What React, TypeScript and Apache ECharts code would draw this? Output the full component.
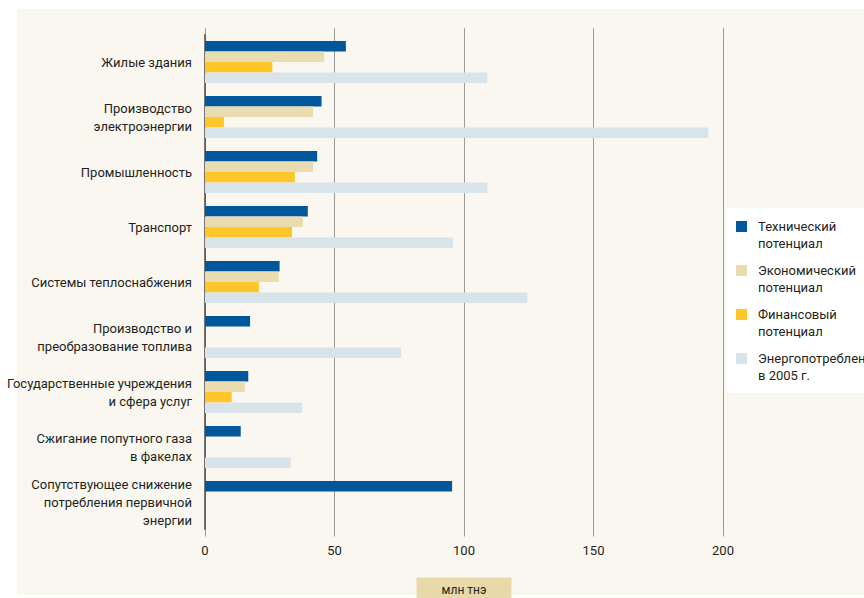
import React, { useEffect, useRef } from "react";
import * as echarts from "echarts";

const categories = [
  "Жилые здания",
  "Производство\nэлектроэнергии",
  "Промышленность",
  "Транспорт",
  "Системы теплоснабжения",
  "Производство и\nпреобразование топлива",
  "Государственные учреждения\nи сфера услуг",
  "Сжигание попутного газа\nв факелах",
  "Сопутствующее снижение\nпотребления первичной\nэнергии",
];

const seriesNames = [
  "Технический\nпотенциал",
  "Экономический\nпотенциал",
  "Финансовый\nпотенциал",
  "Энергопотребление\nв 2005 г.",
];

const technical = [54.4, 45, 43.3, 39.7, 28.8, 17.4, 16.7, 13.8, 95.4];
const economic = [46, 41.7, 41.7, 37.8, 28.5, null, 15.4, null, null];
const financial = [26, 7.3, 34.7, 33.6, 20.8, null, 10.3, null, null];
const consumption = [109, 194.3, 109, 95.8, 124.5, 75.7, 37.5, 33.1, null];

const colors = ["#00579c", "#e8dcb0", "#ffc629", "#d9e4ea"];
const xTicks = { min: 0, max: 200, interval: 50 };

const FONT = "Roboto, 'Liberation Sans', sans-serif";

export default function App() {
  const ref = useRef<HTMLDivElement>(null);
  useEffect(() => {
    document.body.style.margin = "0";
    const chart = echarts.init(ref.current!, null, { renderer: "svg" });
    const values = [technical, economic, financial, consumption];
    const iconPath = "path://M0,3H11V14H0Z M0,0H0.01V0.01H0Z M0,34H0.01V34.01H0Z";
    chart.setOption({
      animation: false,
      backgroundColor: "#ffffff",
      textStyle: { fontFamily: FONT },
      graphic: [
        {
          type: "rect",
          silent: true,
          z: -10,
          shape: { x: 17, y: 9, width: 860, height: 586 },
          style: { fill: "#f9f7f0" },
        },
      ],
      grid: {
        left: 205,
        top: 34.5,
        width: 518,
        height: 495,
        containLabel: false,
        outerBoundsMode: "none",
      },
      legend: {
        orient: "vertical",
        left: 726,
        top: 208,
        padding: [10, 40, 9, 10],
        backgroundColor: "#ffffff",
        itemWidth: 11,
        itemHeight: 34,
        itemGap: 10,
        icon: iconPath,
        data: seriesNames,
        textStyle: {
          fontFamily: FONT,
          fontSize: 13,
          lineHeight: 17,
          color: "#231f20",
          padding: [0, 0, 0, 6],
        },
      },
      xAxis: [
        {
          type: "value",
          ...xTicks,
          position: "bottom",
          axisLine: { show: false },
          axisTick: { show: true, length: 7, lineStyle: { color: "#9a9a9a" } },
          splitLine: { show: true, lineStyle: { color: "#9a9a9a", width: 1 } },
          axisLabel: { margin: 14, fontSize: 13, color: "#231f20", fontFamily: FONT },
          name: "млн тнэ",
          nameLocation: "middle",
          nameGap: 48,
          nameTextStyle: {
            fontFamily: FONT,
            fontSize: 12,
            color: "#231f20",
            backgroundColor: "#e8d9a8",
            padding: [6, 25, 8, 25],
          },
        },
        {
          type: "value",
          ...xTicks,
          position: "top",
          axisLine: { show: false },
          axisTick: { show: true, length: 6.5, lineStyle: { color: "#9a9a9a" } },
          splitLine: { show: false },
          axisLabel: { show: false },
        },
      ],
      yAxis: {
        type: "category",
        inverse: true,
        data: categories,
        axisLine: { show: true, lineStyle: { color: "#4a4a4a", width: 1.5 } },
        axisTick: { show: false },
        axisLabel: {
          margin: 13,
          fontSize: 13,
          lineHeight: 18,
          color: "#231f20",
          fontFamily: FONT,
        },
      },
      series: seriesNames.map((name, i) => ({
        name,
        type: "bar",
        xAxisIndex: 0,
        data: values[i],
        barWidth: 10.5,
        barGap: "0%",
        itemStyle: { color: colors[i] },
      })),
    });
    return () => chart.dispose();
  }, []);
  return <div ref={ref} style={{ width: 864, height: 598 }} />;
}
